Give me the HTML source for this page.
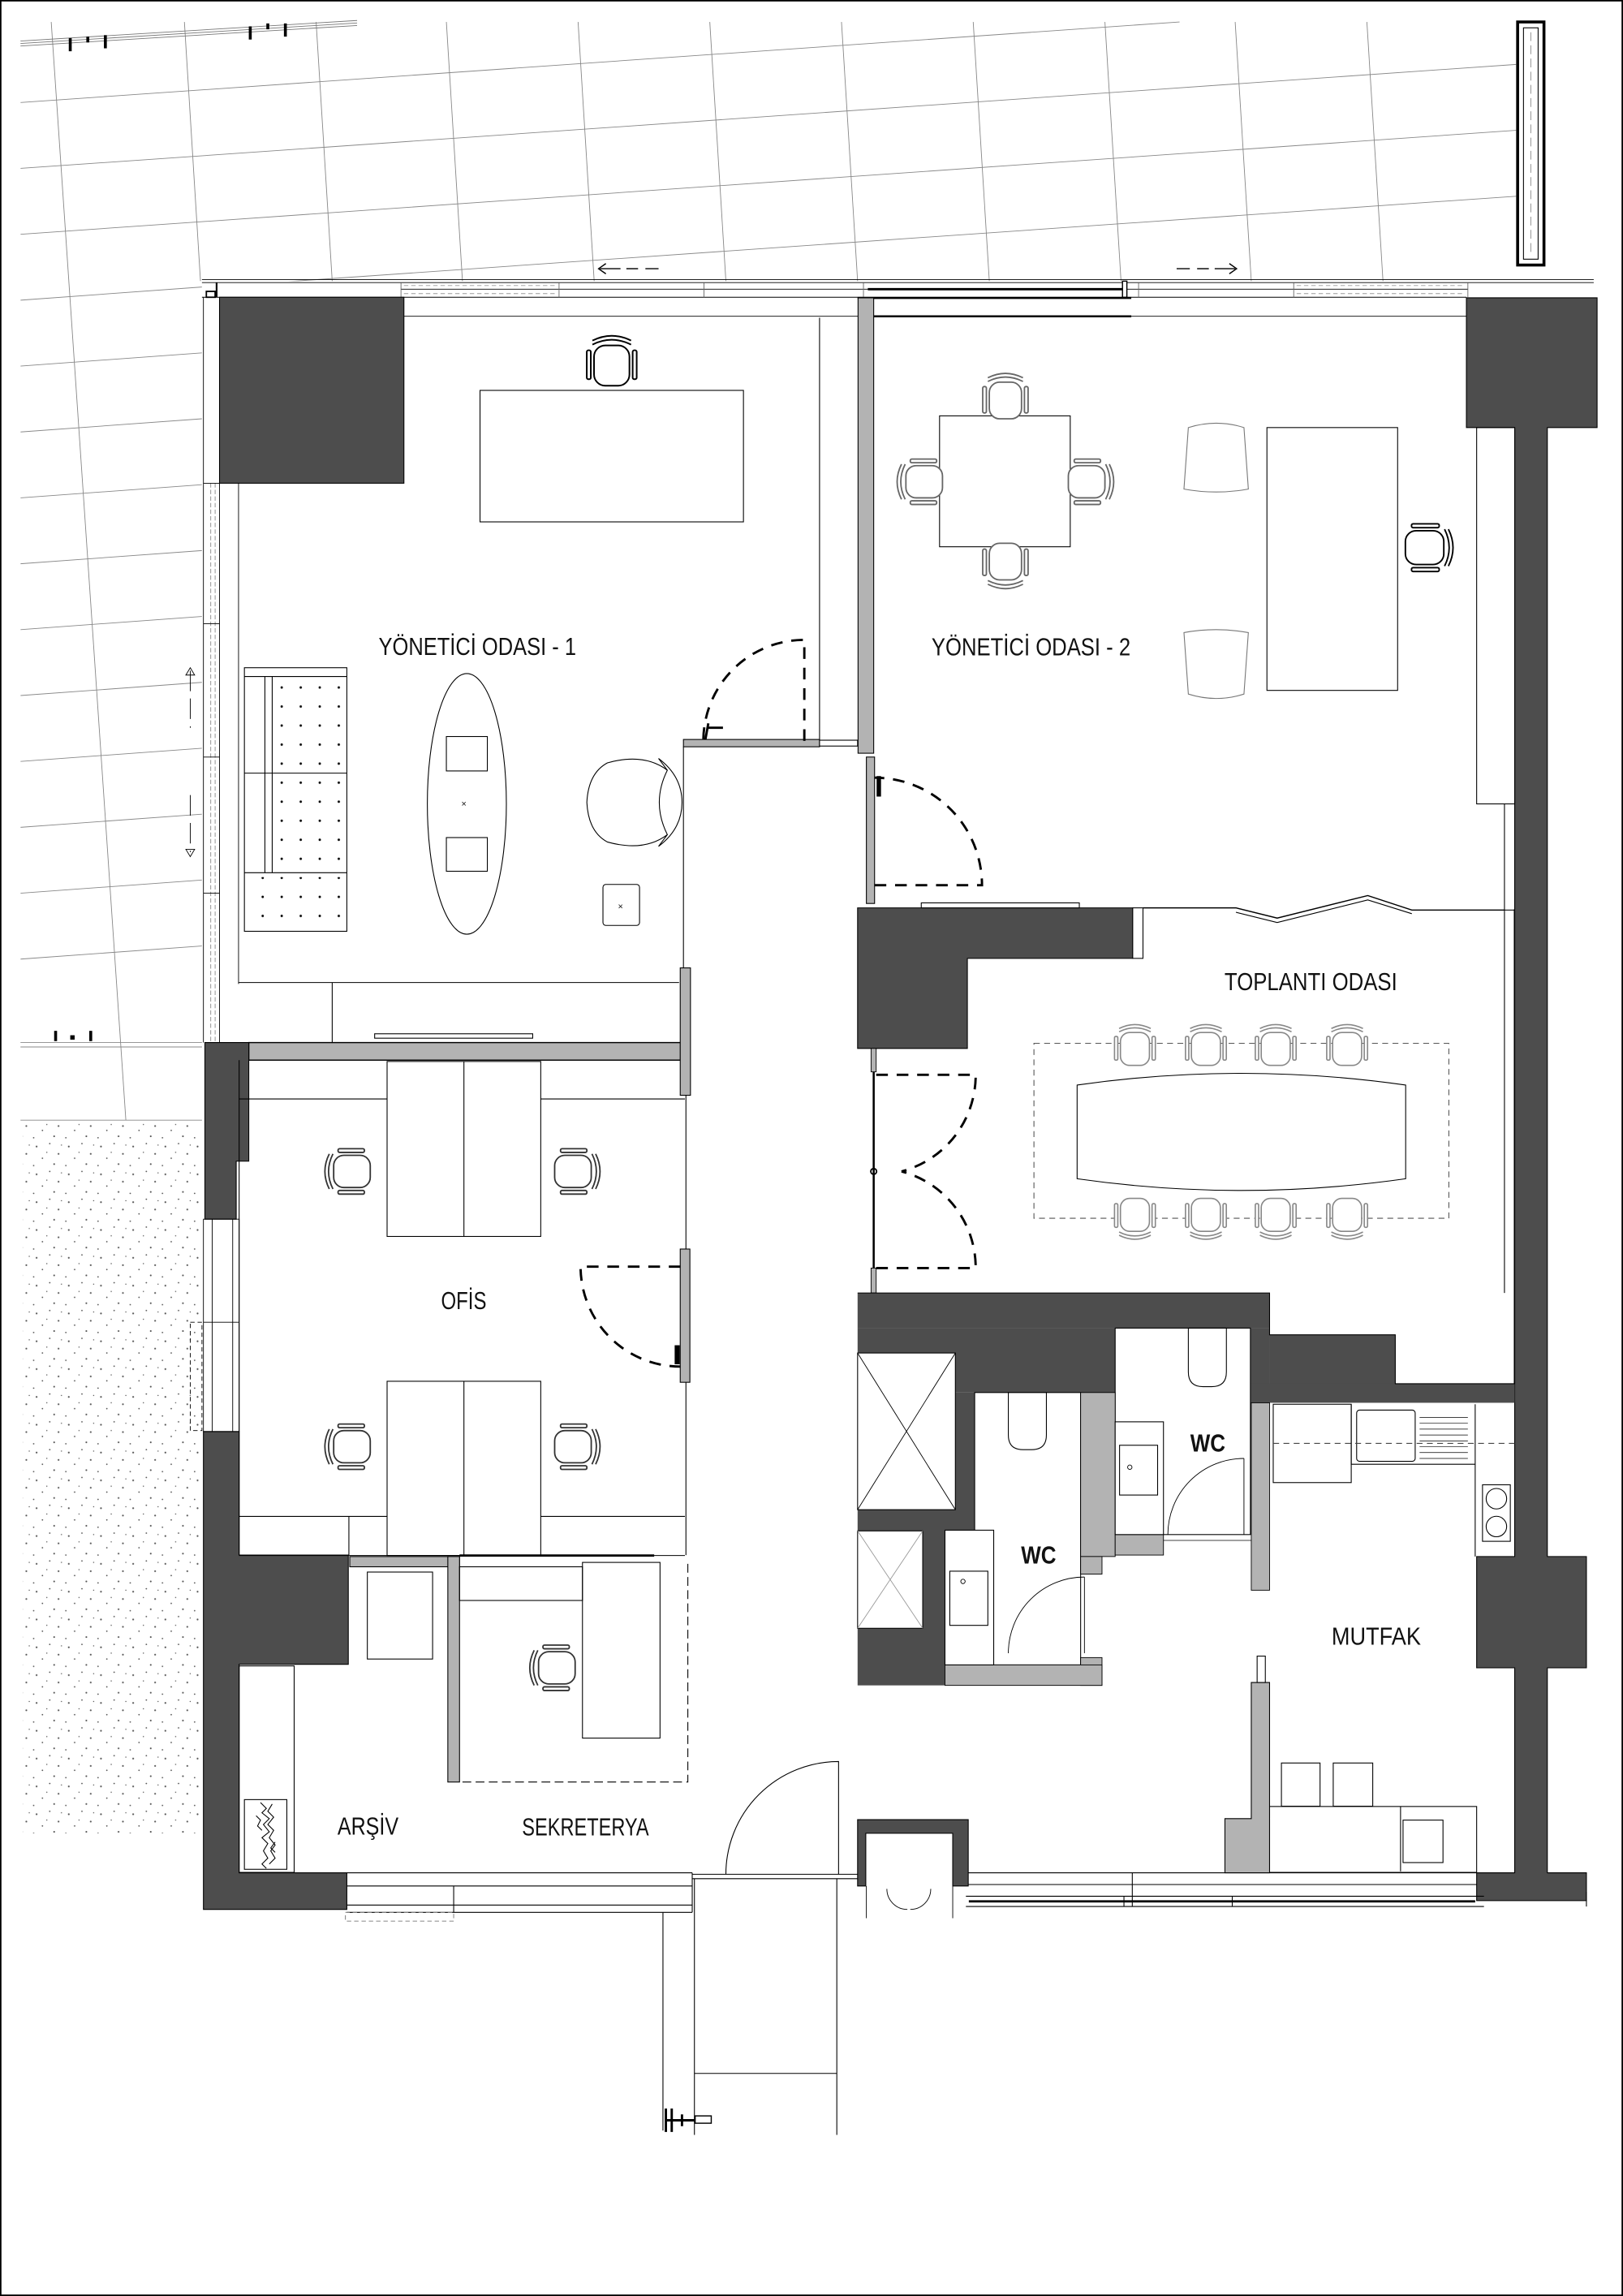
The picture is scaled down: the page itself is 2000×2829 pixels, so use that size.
<!DOCTYPE html>
<html><head><meta charset="utf-8"><style>
html,body{margin:0;padding:0;background:#fff;}
svg{display:block;}
text{font-family:"Liberation Sans","DejaVu Sans",sans-serif;fill:#111;}
</style></head><body>
<svg width="2000" height="2829" viewBox="0 0 1109 1568" preserveAspectRatio="none" xmlns="http://www.w3.org/2000/svg" xmlns:xlink="http://www.w3.org/1999/xlink">
<defs>
<symbol id="ch" viewBox="0 0 40 40">
 <g fill="#fff" stroke="currentColor" stroke-width="1">
 <rect x="9" y="9" width="22" height="25" rx="7"/>
 <path d="M8 6 Q20 0 32 6" fill="none"/>
 <path d="M8 8.5 Q20 2.5 32 8.5" fill="none"/>
 <rect x="4.5" y="12" width="2.5" height="18" rx="1"/>
 <rect x="33" y="12" width="2.5" height="18" rx="1"/>
 </g>
</symbol>
<pattern id="dots" width="22" height="19" patternUnits="userSpaceOnUse">
 <g fill="#555"><circle cx="3" cy="4" r="0.6"/><circle cx="12" cy="2" r="0.5"/><circle cx="18" cy="9" r="0.6"/><circle cx="7" cy="12" r="0.5"/><circle cx="15" cy="16" r="0.6"/><circle cx="1" cy="17" r="0.5"/><circle cx="10" cy="8" r="0.4"/><circle cx="20" cy="3" r="0.4"/></g>
</pattern>
<pattern id="sofa" x="173" y="463" width="13" height="13" patternUnits="userSpaceOnUse"><circle cx="6.5" cy="6.5" r="0.8" fill="#000"/></pattern>
<clipPath id="topc"><rect x="14" y="14" width="1022" height="178"/></clipPath>
<clipPath id="leftc"><rect x="14" y="192" width="124" height="520"/></clipPath>
</defs>
<rect x="0.5" y="0.5" width="1108" height="1567" fill="#fff" stroke="#000" stroke-width="1"/>

<!-- site grid top -->
<g stroke="#888" stroke-width="0.5" fill="none">
 <g clip-path="url(#topc)">
  <line x1="14" y1="70" x2="806" y2="15"/>
  <line x1="14" y1="115" x2="1036" y2="44"/>
  <line x1="14" y1="160" x2="1036" y2="89"/>
  <line x1="14" y1="205" x2="1036" y2="134"/>
  <line x1="126" y1="15" x2="137" y2="192"/>
  <line x1="216" y1="15" x2="227" y2="192"/>
  <line x1="305" y1="15" x2="316" y2="192"/>
  <line x1="395" y1="15" x2="406" y2="192"/>
  <line x1="485" y1="15" x2="496" y2="192"/>
  <line x1="575" y1="15" x2="586" y2="192"/>
  <line x1="665" y1="15" x2="676" y2="192"/>
  <line x1="755" y1="15" x2="766" y2="192"/>
  <line x1="844" y1="15" x2="855" y2="192"/>
  <line x1="934" y1="15" x2="945" y2="192"/>
 </g>
 <g clip-path="url(#leftc)">
  <line x1="14" y1="250" x2="138" y2="241"/>
  <line x1="14" y1="295" x2="138" y2="286"/>
  <line x1="14" y1="340" x2="138" y2="331"/>
  <line x1="14" y1="385" x2="138" y2="376"/>
  <line x1="14" y1="430" x2="138" y2="421"/>
  <line x1="14" y1="475" x2="138" y2="466"/>
  <line x1="14" y1="520" x2="138" y2="511"/>
  <line x1="14" y1="565" x2="138" y2="556"/>
  <line x1="14" y1="610" x2="138" y2="601"/>
  <line x1="14" y1="655" x2="138" y2="646"/>
  <line x1="14" y1="205" x2="138" y2="196"/>
 </g>
 <line x1="35" y1="15" x2="86" y2="765"/>
 <line x1="14" y1="712" x2="138" y2="712"/>
 <line x1="14" y1="715" x2="138" y2="715"/>
 <line x1="14" y1="765" x2="138" y2="765"/>
</g>
<!-- railing -->
<g stroke="#777" stroke-width="0.5">
 <line x1="14" y1="28" x2="244" y2="14"/><line x1="14" y1="29.7" x2="244" y2="15.7"/><line x1="14" y1="31.4" x2="244" y2="17.4"/>
</g>
<g stroke="#000" stroke-width="2">
 <line x1="48" y1="26" x2="48" y2="35"/><line x1="60" y1="25" x2="60" y2="29"/><line x1="72" y1="24" x2="72" y2="33"/>
 <line x1="171" y1="18" x2="171" y2="27"/><line x1="183" y1="16" x2="183" y2="20"/><line x1="195" y1="16" x2="195" y2="25"/>
 <line x1="38" y1="704" x2="38" y2="711"/><line x1="62" y1="704" x2="62" y2="711"/>
</g>
<rect x="48" y="707" width="3" height="3" fill="#000"/>
<!-- right vertical element -->
<rect x="1037" y="15" width="18" height="166" fill="#fff" stroke="#000" stroke-width="2"/>
<rect x="1041" y="19" width="10" height="158" fill="none" stroke="#000" stroke-width="0.6"/>
<line x1="1046" y1="22" x2="1046" y2="174" stroke="#888" stroke-width="0.5" stroke-dasharray="6 3"/>

<!-- dotted ground -->
<rect x="15.5" y="765" width="122.5" height="487" fill="url(#dots)"/>

<!-- top facade -->
<g stroke="#000" stroke-width="0.5" fill="none">
 <line x1="138" y1="191" x2="1089" y2="191"/>
 <line x1="138" y1="193" x2="1089" y2="193"/>
 <line x1="274" y1="197.5" x2="1003" y2="197.5"/>
 <line x1="138" y1="203" x2="1002" y2="203"/>
 <line x1="276" y1="216" x2="1002" y2="216"/>
 <g stroke="#666"><line x1="274" y1="193" x2="274" y2="203"/><line x1="382" y1="193" x2="382" y2="203"/><line x1="481" y1="193" x2="481" y2="203"/><line x1="590" y1="193" x2="590" y2="203"/><line x1="778" y1="193" x2="778" y2="203"/><line x1="884" y1="193" x2="884" y2="203"/><line x1="1003" y1="193" x2="1003" y2="203"/></g>
 <g stroke="#999" stroke-dasharray="3 2"><line x1="276" y1="195" x2="380" y2="195"/><line x1="276" y1="200.5" x2="380" y2="200.5"/><line x1="886" y1="195" x2="1001" y2="195"/><line x1="886" y1="200.5" x2="1001" y2="200.5"/></g>
</g>
<line x1="593" y1="197.5" x2="767" y2="197.5" stroke="#000" stroke-width="1.6"/>
<line x1="586" y1="203.5" x2="773" y2="203.5" stroke="#000" stroke-width="1.4"/>
<line x1="597" y1="216" x2="773" y2="216" stroke="#000" stroke-width="1.4"/>
<rect x="767" y="192" width="3" height="11" fill="#fff" stroke="#000" stroke-width="0.8"/>
<rect x="141" y="199" width="6" height="4" fill="#fff" stroke="#000" stroke-width="1"/>
<line x1="148" y1="193" x2="148" y2="203" stroke="#000" stroke-width="1.2"/>
<!-- top arrows -->
<g stroke="#000" stroke-width="0.8" fill="none">
 <path d="M414 180 L409 183.5 L414 187"/><line x1="410" y1="183.5" x2="424" y2="183.5"/><line x1="428" y1="183.5" x2="436" y2="183.5"/><line x1="441" y1="183.5" x2="450" y2="183.5"/>
 <path d="M840 180 L845 183.5 L840 187"/><line x1="830" y1="183.5" x2="844" y2="183.5"/><line x1="818" y1="183.5" x2="826" y2="183.5"/><line x1="804" y1="183.5" x2="813" y2="183.5"/>
</g>

<!-- left facade room1 -->
<g stroke="#000" stroke-width="0.5" fill="none">
 <line x1="139" y1="203" x2="139" y2="712"/>
 <line x1="150" y1="203" x2="150" y2="712"/>
 <line x1="163" y1="330" x2="163" y2="672"/>
 <line x1="144" y1="330" x2="144" y2="712" stroke="#888" stroke-dasharray="3 1.5"/>
 <line x1="147" y1="330" x2="147" y2="712" stroke="#888" stroke-dasharray="3 1.5"/>
 <line x1="139" y1="330" x2="150" y2="330"/><line x1="139" y1="426" x2="150" y2="426"/><line x1="139" y1="517" x2="150" y2="517"/><line x1="139" y1="610" x2="150" y2="610"/>
 <line x1="130" y1="458" x2="130" y2="497" stroke-dasharray="14 5"/>
 <line x1="130" y1="543" x2="130" y2="582" stroke-dasharray="14 5"/>
 <path d="M127 461 L130 456 L133 461 Z"/><path d="M127 580 L130 585 L133 580 Z"/>
</g>
<rect x="150" y="203" width="126" height="127" fill="#4d4d4d" stroke="#000" stroke-width="0.6"/>

<!-- room1 furniture -->
<g stroke="#000" stroke-width="0.6" fill="none">
 <rect x="328" y="266.6" width="180" height="89.8"/>
 <rect x="167" y="456" width="70" height="180"/>
 <line x1="167" y1="462" x2="237" y2="462"/>
 <line x1="181" y1="462" x2="181" y2="596"/><line x1="186" y1="462" x2="186" y2="596"/>
 <line x1="167" y1="528" x2="237" y2="528"/><line x1="167" y1="596" x2="237" y2="596"/>
 <ellipse cx="319" cy="549" rx="27" ry="89"/>
 <rect x="305" y="503" width="28" height="23.5"/>
 <rect x="305" y="572" width="28" height="23"/>
 <rect x="412" y="604" width="25" height="28" rx="2"/>
 <path d="M415 521 Q402 528 401 548 Q402 568 415 575 Q440 582 456 570 Q445 548 456 526 Q440 514 415 521 Z"/>
 <path d="M450 518 Q466 530 466 548 Q466 566 450 578" />
 <path d="M450 518 L456 526 M450 578 L456 570"/>
 <line x1="163" y1="671" x2="464" y2="671"/>
 <line x1="227" y1="671" x2="227" y2="712"/>
 <rect x="256" y="706" width="108" height="3"/>
 <line x1="560" y1="217" x2="560" y2="506"/>
 <line x1="467" y1="510" x2="467" y2="661"/>
</g>
<rect x="189" y="465" width="48" height="62" fill="url(#sofa)"/>
<rect x="189" y="531" width="48" height="64" fill="url(#sofa)"/>
<rect x="170" y="599" width="67" height="36" fill="url(#sofa)"/>
<text x="317" y="551" font-size="6" text-anchor="middle">×</text>
<text x="424" y="621" font-size="6" text-anchor="middle">×</text>
<use href="#ch" x="396" y="226" width="44" height="44" style="color:#000"/>
<!-- room1 door -->
<rect x="467" y="505" width="93" height="5" fill="#b3b3b3" stroke="#000" stroke-width="0.6"/>
<rect x="560" y="505.5" width="26" height="4" fill="#fff" stroke="#000" stroke-width="0.6"/>
<path d="M549.6 506 L549.6 437 A69 69 0 0 0 480.6 506" fill="none" stroke="#000" stroke-width="1.6" stroke-dasharray="8 6"/>
<path d="M482 505 L484 494 M484 497 L494 497" stroke="#000" stroke-width="1.6" fill="none"/>

<!-- room2 -->
<rect x="586.3" y="203.4" width="10.7" height="311" fill="#b3b3b3" stroke="#000" stroke-width="0.6"/>
<path d="M1002 203.4 H1091.3 V292 H1057.3 V1063 H1084 V1139 H1057.3 V1279 H1084 V1298 H1009 V1279 H1035 V1139 H1009 V1063 H1035 V292 H1002 Z" fill="#4d4d4d" stroke="#000" stroke-width="0.6"/>
<g stroke="#000" stroke-width="0.6" fill="none">
 <rect x="1009" y="292" width="26" height="257"/>
 <line x1="1028" y1="549" x2="1028" y2="883"/>
 <rect x="642" y="284" width="89.3" height="89.4"/>
 <rect x="865.7" y="292" width="89.3" height="179.5"/>
 <g stroke="#777"><path d="M812 292 Q831 286 850 292 L853 334 Q831 338 809 334 Z"/><path d="M812 474 Q831 480 850 474 L853 432 Q831 428 809 432 Z"/></g>
</g>
<use href="#ch" x="667" y="252" width="40" height="40" style="color:#666"/>
<use href="#ch" x="667" y="365" width="40" height="40" transform="rotate(180 687 385)" style="color:#666"/>
<use href="#ch" x="610" y="309" width="40" height="40" transform="rotate(-90 630 329)" style="color:#666"/>
<use href="#ch" x="724" y="309" width="40" height="40" transform="rotate(90 744 329)" style="color:#666"/>
<use href="#ch" x="954" y="353" width="42" height="42" transform="rotate(90 975 374)" style="color:#000"/>
<!-- room2 door -->
<rect x="592" y="517" width="5.6" height="100" fill="#b3b3b3" stroke="#000" stroke-width="0.6"/>
<path d="M597.6 604.5 L671 604.5 A73.4 73.4 0 0 0 597.6 531.1" fill="none" stroke="#000" stroke-width="1.6" stroke-dasharray="8 6"/>
<rect x="599" y="530" width="3" height="14" fill="#000"/>

<!-- meeting room -->
<path d="M586 620 H774 V654.5 H661 V716 H586 Z" fill="#4d4d4d" stroke="#000" stroke-width="0.6"/>
<rect x="774" y="620" width="7" height="34.5" fill="#fff" stroke="#000" stroke-width="0.6"/>
<rect x="629.5" y="616.6" width="108" height="3.4" fill="#fff" stroke="#000" stroke-width="0.6"/>
<path d="M781 620 L844.5 620 L872.7 627 L934.6 611.6 L964.7 621.5 L1028 621.5" fill="none" stroke="#000" stroke-width="0.8"/>
<path d="M844.5 623 L872.7 630 L934.6 614.6 L964.7 624" fill="none" stroke="#000" stroke-width="0.6"/>
<line x1="1028" y1="621.5" x2="1035" y2="621.5" stroke="#000" stroke-width="0.6"/>
<rect x="706.5" y="712.5" width="283.5" height="119.5" fill="none" stroke="#555" stroke-width="0.6" stroke-dasharray="4 3"/>
<use href="#ch" x="757.5" y="696" width="36" height="38" style="color:#888"/>
<use href="#ch" x="806" y="696" width="36" height="38" style="color:#888"/>
<use href="#ch" x="853.7" y="696" width="36" height="38" style="color:#888"/>
<use href="#ch" x="902.5" y="696" width="36" height="38" style="color:#888"/>
<use href="#ch" x="757.5" y="812" width="36" height="38" transform="rotate(180 775.5 831)" style="color:#888"/>
<use href="#ch" x="806" y="812" width="36" height="38" transform="rotate(180 824 831)" style="color:#888"/>
<use href="#ch" x="853.7" y="812" width="36" height="38" transform="rotate(180 871.7 831)" style="color:#888"/>
<use href="#ch" x="902.5" y="812" width="36" height="38" transform="rotate(180 920.5 831)" style="color:#888"/>
<path d="M736 741 Q848 725 960.5 741 L960.5 805 Q848 821 736 805 Z" fill="#fff" stroke="#000" stroke-width="0.6"/>
<!-- meeting doors -->
<rect x="595.2" y="716" width="3.5" height="16" fill="#b3b3b3" stroke="#000" stroke-width="0.5"/>
<rect x="595.2" y="866" width="3.5" height="17" fill="#b3b3b3" stroke="#000" stroke-width="0.5"/>
<line x1="597" y1="732" x2="597" y2="866" stroke="#000" stroke-width="1.4"/>
<path d="M598.7 734 L666.7 734 A68 68 0 0 1 616 800" fill="none" stroke="#000" stroke-width="1.6" stroke-dasharray="8 6"/>
<path d="M598.7 866 L666.7 866 A68 68 0 0 0 616 800" fill="none" stroke="#000" stroke-width="1.6" stroke-dasharray="8 6"/>
<circle cx="597" cy="800" r="2" fill="none" stroke="#000" stroke-width="1"/>
<line x1="1034.7" y1="621" x2="1034.7" y2="945" stroke="#000" stroke-width="0.6"/>

<!-- WC block -->
<g fill="#4d4d4d" stroke="none">
 <rect x="586" y="883" width="281.5" height="24"/>
 <rect x="586" y="907" width="176" height="44"/>
 <rect x="854" y="907" width="13.5" height="51"/>
 <rect x="867.5" y="911.6" width="86" height="34"/>
 <rect x="854" y="945" width="181" height="13"/>
 <rect x="586" y="951" width="80" height="200"/>
</g>
<path d="M586 883 H867.5 V911.6 H953.4 V945 H1035" fill="none" stroke="#000" stroke-width="0.6"/>
<g stroke="#000" stroke-width="0.6" fill="#fff">
 <rect x="586" y="924" width="66.8" height="107"/>
 <rect x="586" y="1045.5" width="44.5" height="66.5"/>
 <rect x="666" y="951" width="72.4" height="186"/>
 <rect x="762" y="907" width="92.4" height="141"/>
</g>
<g stroke="#000" stroke-width="0.5"><line x1="586" y1="924" x2="652.8" y2="1031"/><line x1="652.8" y1="924" x2="586" y2="1031"/></g>
<g stroke="#999" stroke-width="0.5"><line x1="586" y1="1045.5" x2="630.5" y2="1112"/><line x1="630.5" y1="1045.5" x2="586" y2="1112"/></g>
<g fill="#b3b3b3" stroke="#000" stroke-width="0.5">
 <rect x="738.4" y="951" width="23.6" height="112"/>
 <rect x="738.4" y="1063" width="14.6" height="12"/>
 <rect x="738.4" y="1132" width="14.6" height="19"/>
 <rect x="645.7" y="1137" width="107.3" height="14"/>
 <rect x="762" y="1048" width="33" height="14"/>
 <rect x="855" y="958" width="12.5" height="128"/>
</g>
<g stroke="#000" stroke-width="0.6" fill="#fff">
 <rect x="645.7" y="1045" width="33.3" height="92"/>
 <rect x="649" y="1073" width="26" height="37"/>
 <rect x="762" y="971" width="33" height="77"/>
 <rect x="765" y="987" width="26" height="34"/>
 <path d="M689 951 H715 V980 Q715 990 705 990 H699 Q689 990 689 980 Z"/>
 <path d="M812 907 H838 V937 Q838 947 828 947 H822 Q812 947 812 937 Z"/>
 <path d="M689 1129 A52 52 0 0 1 741 1077" fill="none" stroke-width="0.5"/>
 <path d="M798 1048 A52 52 0 0 1 850 996" fill="none" stroke-width="0.5"/>
</g>
<circle cx="658" cy="1080" r="1.5" fill="none" stroke="#000" stroke-width="0.5"/>
<circle cx="772" cy="1002" r="1.5" fill="none" stroke="#000" stroke-width="0.5"/>
<line x1="741" y1="1077" x2="741" y2="1129" stroke="#000" stroke-width="0.5"/>
<line x1="850" y1="996" x2="850" y2="1048" stroke="#000" stroke-width="0.5"/>
<line x1="795" y1="1052" x2="855" y2="1052" stroke="#000" stroke-width="0.4"/>

<!-- kitchen -->
<g stroke="#000" stroke-width="0.6" fill="none">
 <rect x="870" y="959" width="53.3" height="53.5"/>
 <path d="M923.3 959 V1000 H1008"/>
 <rect x="927" y="963" width="40" height="35" rx="2"/>
 <g stroke-width="0.4"><line x1="970" y1="968" x2="1003" y2="968"/><line x1="970" y1="972" x2="1003" y2="972"/><line x1="970" y1="976" x2="1003" y2="976"/><line x1="970" y1="980" x2="1003" y2="980"/><line x1="970" y1="984" x2="1003" y2="984"/><line x1="970" y1="988" x2="1003" y2="988"/><line x1="970" y1="992" x2="1003" y2="992"/><line x1="970" y1="996" x2="1003" y2="996"/></g>
 <line x1="1008" y1="959" x2="1008" y2="1063"/>
 <line x1="870" y1="985.7" x2="1035" y2="985.7" stroke-dasharray="4 3" stroke="#444"/>
 <rect x="1013" y="1014" width="19" height="38.6"/>
 <circle cx="1022.5" cy="1023.5" r="7"/><circle cx="1022.5" cy="1042.5" r="7"/>
 <rect x="867.5" y="1233.7" width="141.5" height="45"/>
 <line x1="957" y1="1233.7" x2="957" y2="1278"/>
 <rect x="875.6" y="1204" width="26.4" height="29.5"/>
 <rect x="911" y="1204" width="27" height="29.5"/>
 <rect x="958.7" y="1243" width="27.3" height="29"/>
</g>
<path d="M855 1149 H867.5 V1279 H837 V1242 H855 Z" fill="#b3b3b3" stroke="#000" stroke-width="0.6"/>
<rect x="859" y="1131" width="5.6" height="18" fill="#fff" stroke="#000" stroke-width="0.6"/>
<!-- bottom right facade -->
<g stroke="#000" stroke-width="0.6" fill="none">
 <line x1="660" y1="1279" x2="1009" y2="1279"/>
 <line x1="660" y1="1287" x2="1009" y2="1287"/>
 <line x1="660" y1="1295" x2="1014" y2="1295"/>
 <line x1="660" y1="1302" x2="1014" y2="1302"/>
 <line x1="773.7" y1="1279" x2="773.7" y2="1302"/>
 <line x1="768" y1="1295" x2="768" y2="1302"/>
 <line x1="842" y1="1295" x2="842" y2="1302"/>
 <line x1="1084" y1="1292" x2="1084" y2="1302"/>
</g>
<line x1="662" y1="1298.5" x2="1008" y2="1298.5" stroke="#000" stroke-width="1.5"/>
<path d="M586 1242.7 H661.6 V1288 H651 V1252 H591.6 V1288 H586 Z" fill="#4d4d4d" stroke="#000" stroke-width="0.6"/>
<g stroke="#000" stroke-width="0.5" fill="none">
 <path d="M592 1288 V1310 M651 1288 V1310 M606 1290 A14 14 0 0 0 620 1304 M636 1290 A14 14 0 0 1 622 1304"/>
</g>

<!-- between room1 and ofis -->
<rect x="170" y="712" width="295" height="12" fill="#b3b3b3" stroke="#000" stroke-width="0.8"/>
<rect x="464.8" y="661" width="7" height="87" fill="#b3b3b3" stroke="#000" stroke-width="0.6"/>
<path d="M140 712 H170 V793 H161.4 V832.6 H140 Z" fill="#4d4d4d" stroke="#000" stroke-width="0.6"/>
<g stroke="#000" stroke-width="0.5" fill="none">
 <rect x="139" y="832.6" width="24.4" height="145"/>
 <line x1="145" y1="832.6" x2="145" y2="977.7"/><line x1="159" y1="832.6" x2="159" y2="977.7"/>
 <line x1="139" y1="903" x2="163" y2="903"/>
 <rect x="130" y="903" width="8" height="74" stroke-dasharray="3 2"/>
</g>
<path d="M139 977.7 H163.4 V1062 H238 V1136.6 H163.4 V1279 H237 V1304 H139 Z" fill="#4d4d4d" stroke="#000" stroke-width="0.6"/>

<!-- OFIS -->
<g stroke="#000" stroke-width="0.6" fill="none">
 <line x1="163.4" y1="724" x2="163.4" y2="1062"/>
 <rect x="264.5" y="724.9" width="105" height="119.5"/>
 <line x1="317" y1="724.9" x2="317" y2="844.4"/>
 <rect x="264.5" y="943.3" width="105" height="119"/>
 <line x1="317" y1="943.3" x2="317" y2="1062.3"/>
 <line x1="163.4" y1="750.5" x2="264.5" y2="750.5"/><line x1="369.5" y1="750.5" x2="468" y2="750.5"/>
 <line x1="163.4" y1="1035.6" x2="264.5" y2="1035.6"/><line x1="369.5" y1="1035.6" x2="468" y2="1035.6"/>
 <line x1="238.4" y1="1035.6" x2="238.4" y2="1062"/>
 <line x1="163.4" y1="1062.3" x2="468" y2="1062.3"/>
 <line x1="468.7" y1="748" x2="468.7" y2="1062"/>
</g>
<line x1="314" y1="1062.3" x2="447" y2="1062.3" stroke="#000" stroke-width="1.5"/>
<use href="#ch" x="219" y="780" width="40" height="40" transform="rotate(-90 239 800)" style="color:#333"/>
<use href="#ch" x="373" y="780" width="40" height="40" transform="rotate(90 393 800)" style="color:#333"/>
<use href="#ch" x="219" y="968" width="40" height="40" transform="rotate(-90 239 988)" style="color:#333"/>
<use href="#ch" x="373" y="968" width="40" height="40" transform="rotate(90 393 988)" style="color:#333"/>
<rect x="464.8" y="853" width="6.6" height="91" fill="#b3b3b3" stroke="#000" stroke-width="0.6"/>
<path d="M465 865 L396.7 865 A68.3 68.3 0 0 0 465 933.3" fill="none" stroke="#000" stroke-width="1.6" stroke-dasharray="8 6"/>
<rect x="461" y="918.7" width="3.5" height="13" fill="#000"/>

<!-- arsiv / sekreterya -->
<rect x="239" y="1063" width="75" height="7" fill="#b3b3b3" stroke="#000" stroke-width="0.6"/>
<rect x="306" y="1063" width="8" height="154" fill="#b3b3b3" stroke="#000" stroke-width="0.6"/>
<g stroke="#000" stroke-width="0.6" fill="none">
 <rect x="251" y="1073.6" width="44.6" height="59.4"/>
 <rect x="398" y="1067" width="53" height="120"/>
 <rect x="314" y="1070" width="84" height="23"/>
 <path d="M470 1068 V1217 H314" stroke-dasharray="6 3"/>
 <rect x="163.4" y="1137.7" width="37.6" height="141"/>
 <rect x="167" y="1229" width="29" height="47.6"/>
 <path d="M178 1231 l4 4 -3 3 5 4 -4 4 4 5 -5 4 4 4 -3 5 3 5 -4 4 3 3 M186 1232 l-3 5 4 4 -4 5 4 4 -3 5 4 5 -3 4 3 5 -4 4 M175 1240 l3 3 -2 4 3 3 M188 1258 l-3 4 3 3"/>
 <line x1="237" y1="1279" x2="473" y2="1279"/>
 <line x1="237" y1="1288" x2="473" y2="1288"/>
 <line x1="237" y1="1301" x2="473" y2="1301"/>
 <line x1="237" y1="1306" x2="473" y2="1306"/>
 <line x1="310" y1="1288" x2="310" y2="1306"/>
 <rect x="236" y="1306" width="74" height="6" stroke="#888" stroke-dasharray="3 2"/>
 <line x1="473" y1="1279" x2="473" y2="1306"/>
 <line x1="453" y1="1306" x2="453" y2="1455"/>
 <line x1="474.5" y1="1283" x2="474.5" y2="1458"/>
 <line x1="571.8" y1="1283" x2="571.8" y2="1458"/>
 <line x1="474.5" y1="1416" x2="571.8" y2="1416"/>
 <line x1="473" y1="1280" x2="586" y2="1280"/>
 <line x1="473" y1="1283" x2="586" y2="1283"/>
 <path d="M496 1280 A77 77 0 0 1 573 1203 V1280"/>
</g>
<line x1="306" y1="1276" x2="270" y2="1276" stroke="#000" stroke-width="0" />
<use href="#ch" x="359" y="1119" width="40" height="40" transform="rotate(-90 379 1139)" style="color:#333"/>
<g stroke="#000" stroke-width="1.6" fill="none">
 <path d="M455 1440 V1456 M459 1440 V1456 M455 1448 H486 M466 1444 V1452"/>
</g>
<rect x="475" y="1445" width="11" height="5" fill="#fff" stroke="#000" stroke-width="0.8"/>

<!-- labels -->
<text x="258.7" y="447.4" font-size="17" textLength="135" lengthAdjust="spacingAndGlyphs">YÖNETİCİ ODASI - 1</text>
<text x="636.5" y="447.5" font-size="17" textLength="136" lengthAdjust="spacingAndGlyphs">YÖNETİCİ ODASI - 2</text>
<text x="836.7" y="676.3" font-size="17" textLength="118" lengthAdjust="spacingAndGlyphs">TOPLANTI ODASI</text>
<text x="301.4" y="894" font-size="17" textLength="31" lengthAdjust="spacingAndGlyphs">OFİS</text>
<text x="813.3" y="991.3" font-size="17" font-weight="bold" textLength="24" lengthAdjust="spacingAndGlyphs">WC</text>
<text x="697.7" y="1067.7" font-size="17" font-weight="bold" textLength="24" lengthAdjust="spacingAndGlyphs">WC</text>
<text x="909.9" y="1123.1" font-size="17" textLength="61" lengthAdjust="spacingAndGlyphs">MUTFAK</text>
<text x="230.6" y="1253" font-size="17" textLength="41.7" lengthAdjust="spacingAndGlyphs">ARŞİV</text>
<text x="356.7" y="1253.5" font-size="17" textLength="86.7" lengthAdjust="spacingAndGlyphs">SEKRETERYA</text>
</svg>
</body></html>
